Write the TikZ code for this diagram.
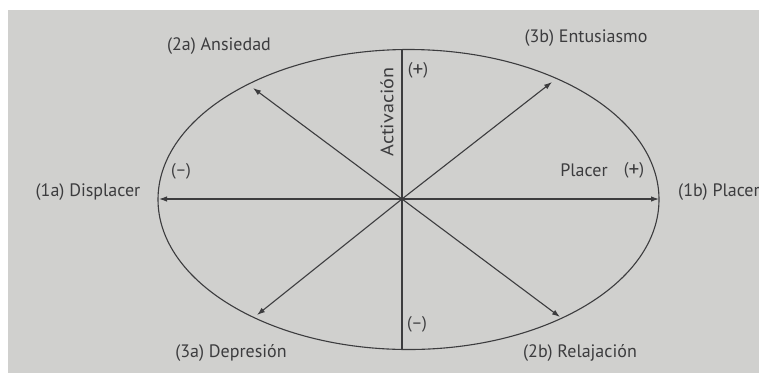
\documentclass[tikz,border=0pt]{standalone}
\usepackage{fontspec}
\setmainfont{PT Sans}
\usetikzlibrary{arrows.meta}
\definecolor{paper}{RGB}{208,208,206}
\definecolor{ink}{RGB}{60,60,62}
\newcommand{\bigplus}{(\raisebox{-0.3ex}{\scalebox{1.25}{+}})}
\tikzset{
  axis/.style={draw=ink, line width=1.1pt},
  arr/.style={axis, -{Latex[length=8pt,width=5.5pt]}},
  lbl/.style={text=ink, font=\fontsize{18}{20}\selectfont, inner sep=0pt},
  sgn/.style={text=ink, font=\fontsize{17}{19}\selectfont, inner sep=0pt}
}
\begin{document}
\begin{tikzpicture}[x=1pt,y=-1pt]
\useasboundingbox (0,0) rectangle (759,373);
\fill[white] (0,0) rectangle (759,373);
\fill[paper] (8,10) rectangle (759,373);
\clip (0,0) rectangle (759,373);
% ellipse
\draw[axis] (408.5,199.5) ellipse [x radius=250.5pt, y radius=150pt];
% centre and tips
\coordinate (O) at (402,199);
\coordinate (T) at (402,50);
\coordinate (B) at (402,350);
\coordinate (L) at (159,199);
\coordinate (R) at (659,199);
\coordinate (NW) at (253,88);
\coordinate (NE) at (552,82);
\coordinate (SW) at (257,315);
\coordinate (SE) at (560,317);
\draw[axis] (T) -- (B);
\draw[arr] (O) -- (L);
\draw[arr] (O) -- (R);
\draw[arr] (O) -- (NW);
\draw[arr] (O) -- (NE);
\draw[arr] (O) -- (SW);
\draw[arr] (O) -- (SE);
% labels
\node[lbl] (l2a) at (219,46) {(2a) Ansiedad};
\node[lbl] (l3b) at (586,38) {(3b) Entusiasmo};
\node[lbl] (l1a) at (88,192) {(1a) Displacer};
\node[lbl, anchor=west] (l1b) at (678,192) {(1b) Placer};
\node[lbl] (l3a) at (231,353) {(3a) Depresión};
\node[lbl] (l2b) at (580,353) {(2b) Relajación};
\node[lbl, rotate=90] (act) at (387,112) {\scalebox{1.12}[1]{Activación}};
\node[lbl] (plc) at (584,170) {Placer};
\node[sgn] (pp) at (634,170) {\bigplus};
\node[sgn] (pt) at (418,70) {\bigplus};
\node[sgn] (mt) at (181,171) {(--)};
\node[sgn] (mb) at (417,324) {(--)};
\end{tikzpicture}
\end{document}
